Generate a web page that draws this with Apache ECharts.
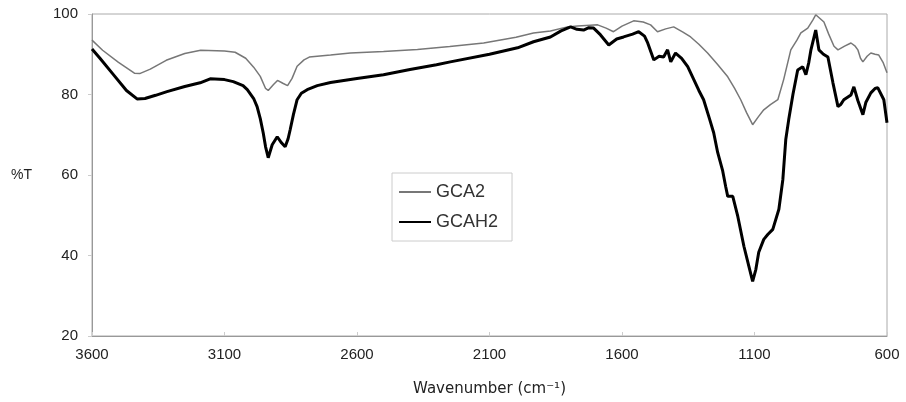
<!DOCTYPE html>
<html>
<head>
<meta charset="utf-8">
<script src="https://cdn.jsdelivr.net/npm/echarts@6/dist/echarts.min.js"></script>
<style>
  html, body { margin: 0; padding: 0; background: #fff; }
  #chart { width: 906px; height: 402px; }
</style>
</head>
<body>
<div id="chart"></div>
<script>
// wavenumber ticks (axis runs 3600 -> 600)
var xTicks = [3600, 3100, 2600, 2100, 1600, 1100, 600];
var yTicks = [20, 40, 60, 80, 100];

// GCA2 (grey)
var gca2Wn = [3600, 3560, 3500, 3440, 3420, 3380, 3320, 3250, 3190, 3100, 3060, 3020, 2990, 2965, 2945, 2935, 2915, 2900, 2880, 2862,
	2845, 2826, 2800, 2780, 2700, 2625, 2500, 2372, 2250, 2122, 2000, 1934, 1870, 1806, 1768, 1720, 1692, 1660, 1632, 1600,
	1556, 1520, 1492, 1466, 1435, 1405, 1370, 1341, 1310, 1277, 1240, 1201, 1175, 1152, 1130, 1107, 1085, 1065, 1040, 1012,
	990, 963, 940, 925, 899, 880, 869, 855, 838, 820, 800, 785, 760, 736, 720, 710, 700, 691, 675, 661, 645, 631, 615, 600];
var gca2T = [93.5, 91, 88, 85.3, 85.2, 86.3, 88.5, 90.2, 91, 90.8, 90.5, 89, 86.8, 84.5, 81.5, 81, 82.5, 83.5, 82.8, 82.2,
	84, 87, 88.6, 89.3, 89.8, 90.3, 90.7, 91.2, 91.9, 92.8, 94.2, 95.3, 95.8, 96.8, 97, 97.2, 97.3, 96.5, 95.6, 97,
	98.3, 98, 97.3, 95.6, 96.3, 96.8, 95.5, 94.3, 92.5, 90.3, 87.5, 84.4, 81.5, 78.7, 75.5, 72.5, 74.5, 76.2, 77.5, 78.7,
	83.7, 91.1, 93.5, 95.3, 96.5, 98.5, 99.8, 99, 98, 95, 92, 91.1, 92, 92.8, 92, 91.1, 89, 88.1, 89.5, 90.3, 90, 89.8, 88, 85.4];

// GCAH2 (black)
var gcah2Wn = [3600, 3570, 3520, 3470, 3430, 3400, 3360, 3317, 3250, 3192, 3154, 3100, 3067, 3030, 3014, 2990, 2977, 2965, 2954, 2945,
	2935, 2920, 2901, 2885, 2871, 2860, 2852, 2840, 2826, 2810, 2788, 2750, 2700, 2600, 2500, 2400, 2300, 2248, 2100, 1994,
	1934, 1870, 1830, 1794, 1770, 1745, 1725, 1707, 1681, 1650, 1620, 1594, 1560, 1537, 1515, 1503, 1480, 1460, 1443, 1428,
	1416, 1398, 1375, 1352, 1329, 1310, 1292, 1270, 1254, 1239, 1220, 1209, 1201, 1182, 1163, 1140, 1120, 1107, 1095, 1084,
	1065, 1050, 1031, 1008, 993, 982, 971, 955, 937, 918, 906, 895, 887, 869, 857, 840, 823, 804, 785, 775,
	763, 736, 725, 710, 691, 680, 661, 645, 635, 612, 600];
var gcah2T = [91.3, 89, 85, 81, 78.9, 79, 79.8, 80.7, 82, 82.9, 83.9, 83.7, 83.2, 82.2, 81.2, 79, 77, 74, 70.5, 67,
	64.3, 67.5, 69.5, 68, 67, 69, 71.3, 75, 78.7, 80.3, 81.2, 82.2, 83, 84, 84.9, 86.2, 87.4, 88.1, 90, 91.6,
	93.1, 94.3, 95.8, 96.8, 96.2, 96, 96.6, 96.5, 94.8, 92.3, 93.8, 94.3, 95, 95.6, 94.5, 92.8, 88.6, 89.5, 89.3, 91.1,
	88.1, 90.3, 89, 86.9, 83.7, 81, 78.7, 74, 70.5, 65.6, 61, 57.2, 54.7, 54.7, 49.7, 42.3, 37, 33.6, 36.5, 40.8,
	44, 45.2, 46.5, 51.5, 58.9, 68.8, 73.7, 80, 86.1, 86.9, 84.9, 88, 91.1, 96, 91.1, 90, 89.3, 82.9, 77, 77.5,
	78.7, 79.9, 81.9, 78.5, 75, 78, 80.4, 81.5, 81.7, 78.7, 73];

function zip(xs, ys) {
	var out = [];
	for (var i = 0; i < xs.length; i++) {
		out.push([xs[i], ys[i]]);
	}
	return out;
}

var chart = echarts.init(document.getElementById("chart"));
var labelFont = "Liberation Sans, Arial, sans-serif";
chart.setOption({
	animation: false,
	backgroundColor: "#fff",
	grid: {
		left: 92,
		right: 19,
		top: 14,
		bottom: 65,
		show: true,
		borderColor: "#aaa",
		borderWidth: 1
	},
	legend: {
		orient: "vertical",
		left: 392,
		top: 173,
		data: ["GCA2", "GCAH2"],
		backgroundColor: "#fff",
		borderColor: "#ccc",
		borderWidth: 1,
		padding: [10, 14, 10, 6],
		itemWidth: 32,
		itemHeight: 16,
		itemGap: 12,
		itemStyle: { opacity: 0 },
		textStyle: { fontSize: 18, color: "#333", fontFamily: labelFont }
	},
	xAxis: {
		type: "value",
		inverse: true,
		min: 600,
		max: 3600,
		name: "Wavenumber (cm\u207B\u00B9)",
		nameLocation: "middle",
		nameGap: 46,
		nameTextStyle: { fontSize: 15, color: "#222", fontFamily: "DejaVu Sans, sans-serif" },
		axisLine: { lineStyle: { color: "#999" } },
		axisTick: { show: true, inside: true, length: 4, lineStyle: { color: "#ccc" }, customValues: xTicks },
		axisLabel: {
			fontSize: 15, color: "#222", margin: 11, fontFamily: labelFont, customValues: xTicks,
			formatter: function (v) { return String(v); }
		},
		splitLine: { show: false }
	},
	yAxis: {
		type: "value",
		min: 20,
		max: 100,
		interval: 20,
		name: "%T",
		nameLocation: "middle",
		nameRotate: 0,
		nameGap: 60,
		nameTextStyle: { fontSize: 14, color: "#222", fontFamily: labelFont },
		axisLine: { show: true, lineStyle: { color: "#999" } },
		axisTick: { show: true, length: 4, lineStyle: { color: "#ccc" } },
		axisLabel: {
			fontSize: 15, color: "#222", margin: 14, fontFamily: labelFont, customValues: yTicks,
			formatter: function (v) { return String(v); }
		},
		splitLine: { show: false }
	},
	series: [{
		name: "GCA2",
		type: "line",
		data: zip(gca2Wn, gca2T),
		symbol: "none",
		color: "#777",
		lineStyle: { width: 1.5, color: "#777" }
	}, {
		name: "GCAH2",
		type: "line",
		data: zip(gcah2Wn, gcah2T),
		symbol: "none",
		color: "#000",
		lineStyle: { width: 3, color: "#000" }
	}]
});
</script>
</body>
</html>
